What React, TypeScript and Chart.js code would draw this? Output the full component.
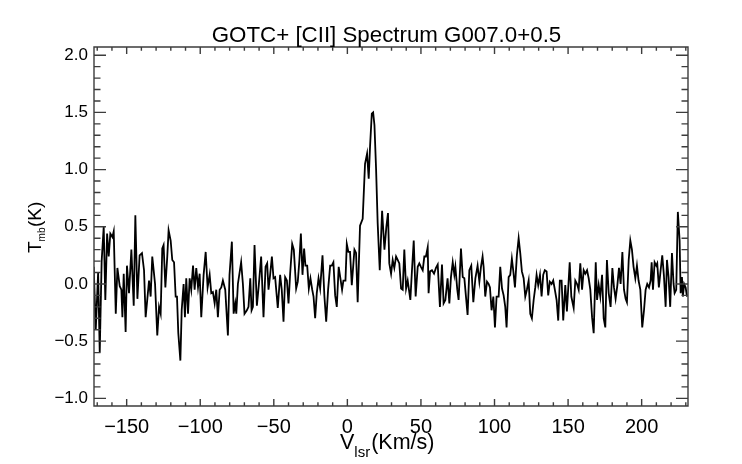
import React, { useEffect, useRef } from "react";
import { Chart, registerables } from "chart.js";

Chart.register(...registerables);

const TITLE = "GOTC+ [CII] Spectrum G007.0+0.5";
const X_TITLE_MAIN = "V";
const X_TITLE_SUB = "lsr";
const X_TITLE_TAIL = "(Km/s)";
const Y_TITLE_MAIN = "T";
const Y_TITLE_SUB = "mb";
const Y_TITLE_TAIL = "(K)";

const X_TICKS = [-150, -100, -50, 0, 50, 100, 150, 200];
const Y_TICKS = [-1.0, -0.5, 0.0, 0.5, 1.0, 1.5, 2.0];

const VELOCITY = [
  -172.4, -171.0, -169.4, -168.3, -167.0, -165.6, -164.5, -163.3, -162.2, -161.1,
  -159.7, -158.8, -157.4, -156.3, -154.7, -153.6, -152.9, -152.0, -150.7, -149.8,
  -148.4, -146.8, -145.2, -144.1, -142.7, -141.2, -139.6, -138.2, -137.1, -134.8,
  -133.7, -132.6, -130.7, -129.2, -128.0, -126.9, -125.8, -124.9, -123.7, -122.4,
  -121.5, -120.1, -119.0, -117.8, -116.7, -115.8, -114.9, -113.5, -112.6, -111.3,
  -110.4, -109.5, -108.3, -107.2, -106.1, -104.9, -103.8, -102.7, -101.5, -100.4,
  -99.3, -97.7, -96.3, -95.0, -93.6, -92.5, -91.4, -90.2, -89.1, -88.0,
  -86.8, -85.7, -84.6, -83.0, -81.2, -80.1, -78.5, -77.3, -76.2, -75.5,
  -74.4,
  -72.2, -71.0, -69.9, -68.3, -67.2, -66.0, -65.1, -64.2, -63.1, -61.5,
  -60.2, -58.6, -57.0, -55.6, -54.5, -53.6, -52.5, -51.3, -50.2, -49.1,
  -47.3, -45.7, -44.6, -43.4, -42.3, -41.1, -40.0, -38.9, -37.5, -36.4,
  -34.8, -33.7, -32.6, -31.6, -30.5, -29.4, -28.5, -27.3, -26.2, -25.1,
  -23.9, -23.0, -21.9, -20.8, -19.6, -18.5, -16.9, -15.6, -14.4, -13.1,
  -11.7, -10.6, -9.5, -8.3, -7.2, -5.9,
  -3.6, -2.7, -1.3, -0.4, 0.7, 1.8, 3.0, 4.8, 5.9, 7.0,
  8.6, 10.4, 12.0, 13.4, 14.5, 15.4, 16.6, 17.5, 18.4, 19.5,
  20.6, 22.0, 23.6, 25.2, 26.5, 27.6, 28.5, 29.7, 30.8, 31.9,
  33.1, 34.2, 35.3, 36.5, 37.6, 38.7, 39.9, 41.0, 42.8, 43.9,
  45.1, 46.4, 47.8, 48.9, 50.0, 51.2, 52.3, 53.4, 54.6, 55.2,
  56.2, 57.5, 58.9, 60.2, 61.4, 62.9, 64.3, 65.4, 66.6, 68.1,
  69.3, 70.4, 71.6, 72.7, 73.4, 74.7, 75.6, 77.2, 78.4, 79.5,
  80.6, 81.7, 82.9, 84.2, 85.6, 87.0, 88.5, 89.7, 90.8, 91.9,
  92.6, 93.7, 94.9, 96.0, 96.9, 98.0, 99.2, 100.3, 101.4, 102.8,
  103.9, 105.1, 106.2, 107.3, 108.2, 109.6, 110.7, 111.8, 112.8, 113.9,
  115.2, 116.4, 117.5, 118.6, 119.8, 120.9, 122.0, 123.2, 124.3, 125.4,
  126.6, 127.7, 128.6, 129.7, 130.9, 132.0, 133.1, 134.2, 135.4, 136.5,
  137.6, 138.8, 139.9, 141.0, 142.2, 143.3, 144.4, 145.6, 146.7, 148.1,
  149.2,
  151.1, 152.2, 153.8, 154.9, 156.1, 157.2, 158.3, 159.5, 160.6, 161.7,
  162.9, 164.0, 165.1, 166.3, 167.4, 168.8, 169.7, 170.8, 171.9, 173.1,
  174.2, 175.3, 176.4, 177.6, 178.9, 180.1, 181.2, 182.3, 183.5, 184.6,
  185.7, 186.9, 188.0, 189.1, 190.0, 191.2, 192.3, 193.4, 194.5, 195.7,
  196.8, 197.9, 199.1, 200.4, 201.6, 202.7, 203.8, 205.0, 206.1, 206.8,
  207.7, 208.8, 209.9, 210.6, 211.7, 212.9, 214.0, 215.1, 216.3, 217.2,
  218.3, 219.4, 220.6, 221.7, 222.4, 223.5, 224.6, 225.8, 226.5, 227.4,
  228.0, 228.9, 229.9, 230.8,
];

const TMB = [
  0.15, -0.40, 0.10, -0.60, 0.20, 0.50, -0.14, 0.44, 0.24, 0.44,
  0.41, 0.46, -0.26, 0.14, -0.02, -0.05, -0.29, 0.09, -0.42, 0.16,
  -0.08, 0.30, -0.19, 0.60, -0.13, 0.25, 0.27, 0.12, -0.29, 0.03,
  -0.11, 0.24, 0.00, -0.45, -0.20, -0.26, 0.31, 0.34, -0.03, 0.24,
  0.47, 0.38, 0.21, 0.19, -0.11, -0.11, -0.43, -0.67, -0.23, 0.00,
  -0.29, 0.05, -0.26, 0.05, -0.05, 0.16, -0.05, 0.14, -0.03, 0.09,
  -0.29, 0.08, 0.28, -0.03, 0.08, -0.08, -0.07, -0.17, -0.05, -0.29,
  -0.05, -0.03, 0.03, -0.05, -0.45, 0.08, 0.37, -0.26, -0.17, -0.26,
  0.00,
  0.19, 0.00, -0.26, -0.23, -0.20, 0.05, -0.23, -0.20, 0.34, -0.19,
  -0.01, 0.24, -0.29, 0.15, 0.18, -0.05, 0.08, 0.24, 0.05, 0.06,
  -0.21, 0.08, -0.05, -0.33, 0.06, 0.03, -0.17, 0.09, 0.35, 0.30,
  -0.04, 0.02, 0.21, 0.44, 0.08, 0.31, 0.16, 0.16, -0.04, 0.05,
  -0.05, -0.11, -0.30, -0.08, 0.05, -0.04, 0.25, -0.11, -0.33, -0.05,
  0.16, 0.16, 0.19, -0.10, -0.20, 0.15,
  -0.05, 0.03, 0.03, 0.35, 0.28, 0.28, -0.01, 0.30, 0.27, -0.16,
  0.51, 0.57, 1.05, 1.14, 0.92, 1.20, 1.49, 1.50, 1.39, 1.01,
  0.53, 0.12, 0.64, 0.30, 0.50, 0.62, 0.18, 0.09, 0.21, 0.14,
  0.24, 0.21, 0.18, -0.04, -0.05, 0.30, -0.04, 0.03, -0.14, 0.12,
  0.38, -0.11, 0.15, 0.18, 0.15, 0.12, 0.24, 0.24, 0.32, -0.08,
  0.11, 0.12, 0.09, 0.14, 0.17, -0.20, 0.17, -0.17, -0.14, 0.05,
  -0.17, 0.06, 0.19, 0.08, 0.15, -0.05, -0.14, 0.31, 0.06, 0.05,
  -0.11, -0.27, 0.12, 0.16, -0.16, 0.05, 0.16, 0.02, 0.15, 0.24,
  0.15, -0.11, 0.02, 0.00, -0.03, -0.23, -0.11, -0.38, -0.11, -0.11,
  0.15, -0.04, -0.10, -0.20, -0.38, 0.06, 0.08, 0.22, 0.11, -0.03,
  0.25, 0.40, 0.27, 0.11, 0.05, -0.11, -0.05, 0.03, -0.26, -0.30,
  -0.14, -0.03, 0.08, -0.01, 0.08, -0.11, 0.08, 0.12, 0.11, -0.10,
  0.02, 0.00, 0.03, -0.05, -0.14, -0.32, 0.03, 0.03, -0.32, -0.01,
  -0.24,
  0.19, -0.11, -0.21, 0.03, 0.00, -0.05, 0.18, -0.05, 0.12, 0.09,
  0.12, 0.05, -0.05, -0.29, -0.43, 0.19, -0.14, -0.01, -0.11, 0.08,
  -0.30, -0.38, 0.21, -0.08, -0.20, 0.14, -0.03, -0.13, -0.01, 0.14,
  0.00, 0.28, -0.05, -0.13, -0.16, 0.21, 0.38, 0.30, 0.15, 0.05,
  0.16, 0.03, -0.05, -0.38, -0.23, -0.05, 0.00, -0.03, 0.03, 0.19,
  -0.05, 0.19, 0.16, 0.18, -0.03, 0.12, 0.25, 0.08, -0.20, 0.21,
  0.06, -0.20, 0.27, 0.00, -0.08, -0.05, 0.63, 0.38, -0.08, 0.06,
  -0.11, 0.00, -0.03, -0.11,
];

const FONT = "'Liberation Sans', Arial, Helvetica, sans-serif";

function minusFmt(s: string): string {
  return s.replace("-", "\u2212");
}

const idlFramePlugin = {
  id: "idlFrame",
  afterDraw(chart: any) {
    const { ctx, chartArea: a, scales } = chart;
    const xs = scales.x;
    const ys = scales.y;
    ctx.save();
    ctx.strokeStyle = "#3c3c3c";
    ctx.lineWidth = 1.4;
    ctx.beginPath();
    ctx.rect(a.left, a.top, a.right - a.left, a.bottom - a.top);
    ctx.stroke();
    ctx.beginPath();
    // x ticks (minor every 10, major every 50)
    for (let k = -17; k <= 23; k++) {
      const v = k * 10;
      const px = xs.getPixelForValue(v);
      if (px < a.left - 0.5 || px > a.right + 0.5) continue;
      const len = k % 5 === 0 ? 7 : 3.7;
      ctx.moveTo(px, a.bottom);
      ctx.lineTo(px, a.bottom - len);
      ctx.moveTo(px, a.top);
      ctx.lineTo(px, a.top + len);
    }
    // y ticks (minor every 0.1, major every 0.5)
    for (let k = -10; k <= 20; k++) {
      const py = ys.getPixelForValue(k / 10);
      const len = k % 5 === 0 ? 12 : 6.5;
      ctx.moveTo(a.left, py);
      ctx.lineTo(a.left + len, py);
      ctx.moveTo(a.right, py);
      ctx.lineTo(a.right - len, py);
    }
    ctx.stroke();

    ctx.fillStyle = "#000";
    // Title
    ctx.font = `22.3px ${FONT}`;
    ctx.textAlign = "center";
    ctx.textBaseline = "alphabetic";
    ctx.fillText(TITLE, 386.5, 41.5);

    // X axis title with subscript
    ctx.textAlign = "left";
    let x = 340;
    const xb = 449;
    ctx.font = `21.5px ${FONT}`;
    ctx.fillText(X_TITLE_MAIN, x, xb);
    x += ctx.measureText(X_TITLE_MAIN).width;
    ctx.font = `15px ${FONT}`;
    ctx.fillText(X_TITLE_SUB, x, xb + 8);
    x += ctx.measureText(X_TITLE_SUB).width + 1;
    ctx.font = `21.5px ${FONT}`;
    ctx.fillText(X_TITLE_TAIL, x, xb);

    // Y axis title (rotated) with subscript
    ctx.translate(41, 253);
    ctx.rotate(-Math.PI / 2);
    let y = 0;
    ctx.font = `19px ${FONT}`;
    ctx.fillText(Y_TITLE_MAIN, y, 0);
    y += ctx.measureText(Y_TITLE_MAIN).width;
    ctx.font = `10px ${FONT}`;
    ctx.fillText(Y_TITLE_SUB, y, 4);
    y += ctx.measureText(Y_TITLE_SUB).width + 0.5;
    ctx.font = `19px ${FONT}`;
    ctx.fillText(Y_TITLE_TAIL, y, 0);
    ctx.restore();
  },
};

export default function App() {
  const ref = useRef<HTMLCanvasElement>(null);

  useEffect(() => {
    const canvas = ref.current;
    if (!canvas) return;
    const points = VELOCITY.map((v, i) => ({ x: v, y: TMB[i] }));
    const chart = new Chart(canvas, {
      type: "line",
      data: {
        datasets: [
          {
            data: points,
            borderColor: "#000",
            borderWidth: 1.8,
            pointRadius: 0,
            tension: 0,
            fill: false,
          },
        ],
      },
      options: {
        responsive: false,
        animation: false,
        devicePixelRatio: 1,
        layout: { padding: { top: 47, right: 54, left: 0, bottom: 0 } },
        plugins: {
          legend: { display: false },
          tooltip: { enabled: false },
          title: { display: false },
        },
        scales: {
          x: {
            type: "linear",
            min: -172.2,
            max: 231.5,
            grid: { display: false, drawTicks: false },
            border: { display: false },
            afterBuildTicks: (s: any) => {
              s.ticks = X_TICKS.map((value) => ({ value }));
            },
            afterFit: (s: any) => {
              s.height = 58;
            },
            ticks: {
              color: "#000",
              padding: 9,
              maxRotation: 0,
              autoSkip: false,
              font: { family: FONT, size: 20 },
              callback: (v: any) => minusFmt(String(v)),
            },
          },
          y: {
            type: "linear",
            min: -1.067,
            max: 2.072,
            grid: { display: false, drawTicks: false },
            border: { display: false },
            afterBuildTicks: (s: any) => {
              s.ticks = Y_TICKS.map((value) => ({ value }));
            },
            afterFit: (s: any) => {
              s.width = 94;
            },
            ticks: {
              color: "#000",
              padding: 6,
              autoSkip: false,
              font: { family: FONT, size: 17 },
              callback: (v: any) => minusFmt(Number(v).toFixed(1)),
            },
          },
        },
      },
      plugins: [idlFramePlugin],
    });
    return () => chart.destroy();
  }, []);

  return (
    <div style={{ position: "fixed", left: 0, top: 0, width: 742, height: 464, background: "#fff" }}>
      <canvas ref={ref} width={742} height={464} style={{ width: 742, height: 464, display: "block" }} />
    </div>
  );
}
